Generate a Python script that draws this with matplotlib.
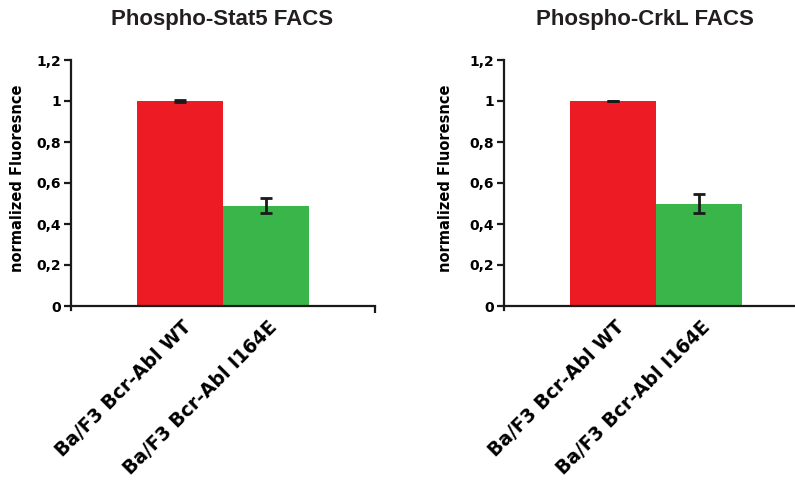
import matplotlib
matplotlib.use("Agg")
import matplotlib.pyplot as plt
import matplotlib.transforms as mtransforms

categories = ["Ba/F3 Bcr-Abl WT", "Ba/F3 Bcr-Abl I164E"]
stat5_values = [1.0, 0.49]
stat5_errors = [0.005, 0.037]
crkl_values = [1.0, 0.50]
crkl_errors = [0.002, 0.048]
titles = ["Phospho-Stat5 FACS", "Phospho-CrkL FACS"]
ylabel = "normalized Fluoresnce"
yticks = [0, 0.2, 0.4, 0.6, 0.8, 1.0, 1.2]
yticklabels = ["0", "0,2", "0,4", "0,6", "0,8", "1", "1,2"]

colors = ["#ED1C24", "#3AB54A"]

plt.rcParams['font.family'] = ['DejaVu Sans']
fig = plt.figure(figsize=(7.95, 4.83), dpi=100)

W, H = 795.0, 483.0
panels = [
    dict(x0=71, vals=stat5_values, errs=stat5_errors, title=titles[0], tx=0.498, lx=-0.152),
    dict(x0=504, vals=crkl_values, errs=crkl_errors, title=titles[1], tx=0.464, lx=-0.168),
]
for p in panels:
    ax = fig.add_axes([p["x0"] / W, (H - 306) / H, 304 / W, 246 / H])
    xs = list(range(len(categories)))
    ax.bar(xs, p["vals"], width=1.0, color=colors, edgecolor="none", zorder=2)
    ax.errorbar(xs, p["vals"], yerr=p["errs"], fmt="none", ecolor="#1a1a1a",
                elinewidth=2, capsize=4, capthick=2, zorder=3)
    ax.set_xlim(-1.265, 2.27)
    ax.set_ylim(0, 1.2)
    for s in ["top", "right"]:
        ax.spines[s].set_visible(False)
    for s in ["left", "bottom"]:
        ax.spines[s].set_linewidth(1.6)
        ax.spines[s].set_color("#1a1a1a")
    ax.spines["left"].set_bounds(-0.02, 1.2)
    ax.set_yticks(yticks)
    ax.set_yticklabels(yticklabels, fontsize=10, fontweight="bold")
    ax.tick_params(axis="y", direction="out", length=5, width=1.6, pad=2, color="#1a1a1a")
    ax.set_xticks(xs)
    ax.set_xticklabels(categories, rotation=45, ha="right", va="top",
                       rotation_mode="anchor", fontsize=13.5, fontweight="bold")
    ax.tick_params(axis="x", length=0, pad=8)
    offset = mtransforms.ScaledTranslation(2 / 100, 0, fig.dpi_scale_trans)
    for lab in ax.get_xticklabels():
        lab.set_transform(lab.get_transform() + offset)
    ax.set_xticks([2.27], minor=True)
    ax.tick_params(axis="x", which="minor", direction="out", length=5, width=1.6, color="#1a1a1a")
    ax.set_ylabel(ylabel, fontsize=10.5, fontweight="bold")
    ax.yaxis.set_label_coords(p["lx"], 0.518)
    ax.text(p["tx"], 1.0 + 40 / 246, p["title"], transform=ax.transAxes,
            ha="center", va="center", fontsize=16, fontweight="bold",
            family=["Liberation Sans", "DejaVu Sans"], color="#231f20")

fig.savefig("out.png", dpi=100, facecolor="white")
